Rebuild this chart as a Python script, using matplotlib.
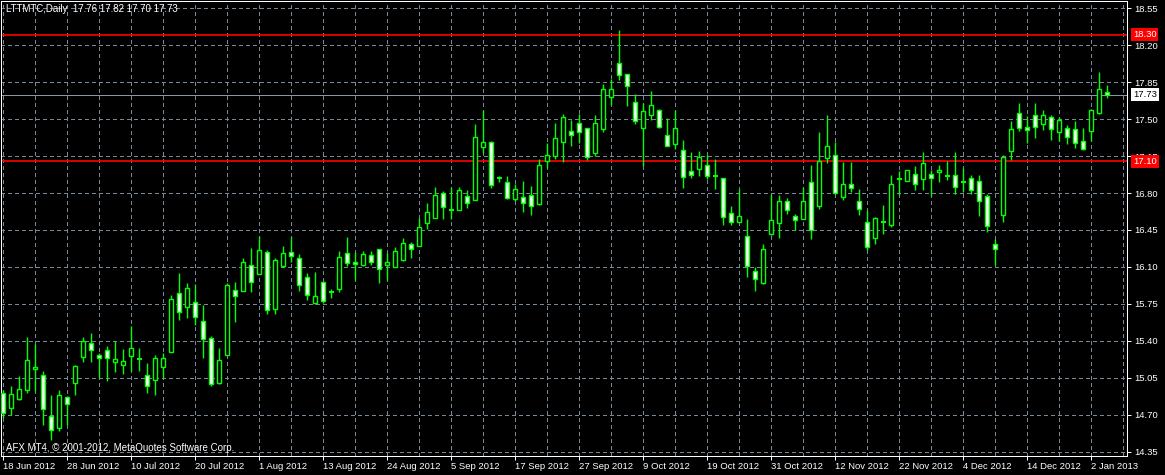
import numpy as np
import matplotlib
matplotlib.use('Agg')
import matplotlib.pyplot as plt
from matplotlib.patches import Rectangle

# Daily OHLC, 18 Jun 2012 .. 3 Jan 2013 (139 bars)
opens = [14.91, 14.76, 14.85, 14.93, 15.13, 15.08, 14.69, 14.57, 14.87, 15.00,
         15.25, 15.38, 15.27, 15.31, 15.20, 15.17, 15.26, 15.23, 15.08, 15.03,
         15.15, 15.29, 15.85, 15.72, 15.77, 15.59, 15.43, 15.00, 15.27, 15.88,
         15.87, 16.12, 16.03, 16.24, 15.70, 16.11, 16.24, 16.18, 16.00, 15.76,
         15.96, 15.86, 15.89, 16.23, 16.15, 16.12, 16.21, 16.27, 16.12, 16.10,
         16.17, 16.32, 16.30, 16.52, 16.56, 16.80, 16.64, 16.64, 16.77, 16.73,
         17.24, 17.28, 16.94, 16.90, 16.74, 16.76, 16.78, 16.70, 17.10, 17.15,
         17.28, 17.39, 17.46, 17.42, 17.18, 17.41, 17.71, 18.03, 17.93, 17.66,
         17.42, 17.54, 17.59, 17.35, 17.26, 17.21, 17.01, 17.03, 17.07, 16.96,
         16.94, 16.61, 16.53, 16.39, 16.06, 15.95, 16.41, 16.52, 16.72, 16.58,
         16.55, 16.90, 16.68, 17.13, 17.16, 16.76, 16.89, 16.72, 16.53, 16.37,
         16.53, 16.50, 16.93, 16.91, 16.98, 16.93, 16.98, 17.00, 16.96, 16.97,
         16.90, 16.94, 16.91, 16.77, 16.32, 16.59, 17.20, 17.56, 17.43, 17.54,
         17.45, 17.52, 17.38, 17.42, 17.41, 17.29, 17.39, 17.56, 17.76]
highs = [14.93, 14.97, 15.07, 15.44, 15.37, 15.11, 14.89, 14.93, 14.88, 15.17,
         15.44, 15.47, 15.28, 15.35, 15.40, 15.32, 15.54, 15.33, 15.19, 15.27,
         15.28, 15.83, 16.04, 15.95, 15.94, 15.74, 15.45, 15.33, 15.95, 15.96,
         16.18, 16.28, 16.39, 16.26, 16.18, 16.30, 16.38, 16.22, 16.04, 16.05,
         15.97, 15.89, 16.25, 16.38, 16.24, 16.25, 16.25, 16.27, 16.23, 16.29,
         16.37, 16.34, 16.56, 16.71, 16.86, 16.82, 16.86, 16.86, 16.83, 17.45,
         17.59, 17.29, 16.96, 16.96, 16.89, 16.91, 16.87, 17.12, 17.27, 17.46,
         17.55, 17.49, 17.55, 17.42, 17.54, 17.83, 17.88, 18.34, 17.93, 17.74,
         17.65, 17.77, 17.60, 17.51, 17.59, 17.30, 17.19, 17.20, 17.16, 17.12,
         16.94, 16.68, 16.84, 16.55, 16.10, 16.32, 16.79, 16.78, 16.75, 16.60,
         16.86, 17.07, 17.38, 17.54, 17.28, 17.09, 17.09, 16.84, 16.64, 16.57,
         16.69, 16.97, 17.01, 17.02, 17.06, 17.19, 17.02, 17.07, 17.10, 17.19,
         17.04, 16.97, 16.97, 16.79, 16.36, 17.16, 17.48, 17.65, 17.53, 17.65,
         17.59, 17.54, 17.52, 17.44, 17.48, 17.42, 17.60, 17.95, 17.82]
lows = [14.67, 14.70, 14.84, 14.91, 14.92, 14.60, 14.46, 14.55, 14.60, 14.89,
        15.20, 15.20, 15.05, 15.02, 15.10, 15.09, 15.11, 15.11, 14.91, 14.89,
        15.05, 15.29, 15.60, 15.62, 15.55, 15.24, 14.97, 14.99, 15.27, 15.58,
        15.87, 15.86, 16.03, 15.65, 15.65, 16.10, 16.15, 15.87, 15.79, 15.75,
        15.76, 15.81, 15.86, 16.11, 15.98, 16.11, 16.12, 15.95, 15.98, 16.10,
        16.16, 16.18, 16.30, 16.46, 16.56, 16.55, 16.55, 16.64, 16.66, 16.73,
        17.18, 16.85, 16.90, 16.74, 16.72, 16.62, 16.59, 16.69, 17.04, 17.12,
        17.09, 17.25, 17.27, 17.11, 17.15, 17.38, 17.63, 17.87, 17.62, 17.45,
        17.06, 17.49, 17.42, 17.25, 17.22, 16.85, 16.94, 16.96, 16.93, 16.84,
        16.50, 16.50, 16.53, 16.00, 15.87, 15.94, 16.40, 16.37, 16.60, 16.45,
        16.55, 16.36, 16.65, 17.08, 16.79, 16.73, 16.81, 16.59, 16.26, 16.32,
        16.41, 16.48, 16.78, 16.91, 16.83, 16.83, 16.77, 16.90, 16.92, 16.79,
        16.81, 16.79, 16.58, 16.43, 16.12, 16.53, 17.11, 17.39, 17.27, 17.32,
        17.40, 17.30, 17.29, 17.26, 17.23, 17.21, 17.29, 17.55, 17.70]
closes = [14.72, 14.90, 14.94, 15.22, 15.15, 14.75, 14.56, 14.89, 14.80, 15.16,
          15.40, 15.31, 15.24, 15.24, 15.23, 15.21, 15.33, 15.23, 14.97, 15.24,
          15.24, 15.80, 15.67, 15.90, 15.63, 15.42, 14.99, 15.22, 15.93, 15.82,
          16.15, 15.96, 16.26, 15.69, 16.17, 16.23, 16.20, 15.93, 15.83, 15.82,
          15.78, 15.86, 16.19, 16.14, 16.13, 16.22, 16.15, 16.08, 16.15, 16.25,
          16.33, 16.27, 16.48, 16.62, 16.78, 16.67, 16.64, 16.83, 16.71, 17.33,
          17.28, 16.88, 16.94, 16.75, 16.84, 16.71, 16.68, 17.07, 17.16, 17.32,
          17.52, 17.35, 17.38, 17.14, 17.46, 17.79, 17.79, 17.92, 17.81, 17.48,
          17.58, 17.63, 17.43, 17.25, 17.42, 16.95, 16.97, 17.14, 16.96, 16.96,
          16.57, 16.53, 16.58, 16.11, 15.99, 16.27, 16.54, 16.72, 16.64, 16.54,
          16.72, 16.45, 17.10, 17.25, 16.80, 16.89, 16.85, 16.65, 16.29, 16.56,
          16.53, 16.89, 16.93, 17.02, 16.89, 17.08, 16.94, 17.02, 16.96, 16.86,
          16.90, 16.83, 16.72, 16.49, 16.27, 17.14, 17.41, 17.42, 17.40, 17.43,
          17.54, 17.41, 17.49, 17.33, 17.27, 17.22, 17.59, 17.79, 17.73]

date_labels = ['18 Jun 2012', '28 Jun 2012', '10 Jul 2012', '20 Jul 2012',
               '1 Aug 2012', '13 Aug 2012', '24 Aug 2012', '5 Sep 2012',
               '17 Sep 2012', '27 Sep 2012', '9 Oct 2012', '19 Oct 2012',
               '31 Oct 2012', '12 Nov 2012', '22 Nov 2012', '4 Dec 2012',
               '14 Dec 2012', '2 Jan 2013']
price_ticks = [14.35, 14.70, 15.05, 15.40, 15.75, 16.10, 16.45, 16.80,
               17.15, 17.50, 17.85, 18.20, 18.55]
red_levels = [18.30, 17.10]
bid_level = 17.73
title_text = 'LTTMTC,Daily  17.76 17.82 17.70 17.73'
copyright_text = 'AFX MT4, \u00a9 2001-2012, MetaQuotes Software Corp.'

# colours, MT4 "green on black"
bar_col = '#00ff00'
grid_col = '#778899'
px = 0.72  # one pixel in points at dpi 100

plt.rcParams['font.family'] = ['Liberation Sans', 'DejaVu Sans']

W, H = 1165, 475
fig = plt.figure(figsize=(W / 100, H / 100), dpi=100, facecolor='black')
# chart frame in pixels: x 1..1127, y 1..456
ax = fig.add_axes([1 / W, (H - 456) / H, 1126 / W, 455 / H])
ax.set_facecolor('black')

n = len(opens)
x = np.arange(n)

# grid
for gx in range(0, 141, 4):
    ax.axvline(gx, color=grid_col, lw=px, ls=(0, (3, 3)), zorder=0,
               antialiased=False)
for gy in price_ticks:
    ax.axhline(gy, color=grid_col, lw=px, ls=(0, (3, 3)), zorder=0,
               antialiased=False)

# level lines
for lv in red_levels:
    ax.axhline(lv, color='#ff0000', lw=1.2, zorder=1)
ax.axhline(bid_level, color='#8a96a3', lw=px, zorder=1, antialiased=False)

# candles
bw = 0.5
ax.vlines(x, lows, highs, color=bar_col, lw=1.0, zorder=2)
for i in range(n):
    o, c = opens[i], closes[i]
    if abs(c - o) < 1e-9:
        ax.hlines(o, i - 0.3, i + 0.3, color=bar_col, lw=1.5, zorder=3)
        continue
    face = 'black' if c > o else 'white'
    ax.add_patch(Rectangle((i - bw / 2, min(o, c)), bw, abs(c - o),
                           facecolor=face, edgecolor=bar_col, lw=1.0, zorder=3))

ax.set_xlim(-0.2875, 140.46)
ax.set_ylim(14.309, 18.619)

# axes, ticks
for s in ax.spines.values():
    s.set_color('white')
    s.set_linewidth(px)
ax.yaxis.tick_right()
ax.set_yticks(price_ticks)
ax.set_yticklabels(['%.2f' % p for p in price_ticks])
ax.set_xticks(np.arange(0, 8 * len(date_labels), 8))
ax.set_xticklabels(date_labels, ha='left')
ax.tick_params(axis='both', colors='white', labelcolor='white', labelsize=6.8,
               length=3, width=px, direction='out')
ax.tick_params(axis='y', pad=2)
ax.tick_params(axis='x', pad=1.5)

# price tags on the right (they cover the nearby scale label, as in MT4)
for lv, bg, fg in [(red_levels[0], '#ff0000', 'white'),
                   (bid_level, 'white', 'black'),
                   (red_levels[1], '#ff0000', 'white')]:
    ax.annotate('%.2f' % lv, xy=(1.0, lv), xycoords=('axes fraction', 'data'),
                xytext=(4.3, 0), textcoords='offset points', ha='left', va='center',
                fontsize=6.8, color=fg, annotation_clip=False, zorder=10,
                bbox=dict(boxstyle='square,pad=0.2', facecolor=bg, edgecolor='none'))

ax.text(0.0045, 0.993, title_text, transform=ax.transAxes, color='white',
        fontsize=7, ha='left', va='top')
ax.text(0.0045, 0.006, copyright_text, transform=ax.transAxes, color='white',
        fontsize=7, ha='left', va='bottom')

fig.savefig('out.png', dpi=100, facecolor='black')
